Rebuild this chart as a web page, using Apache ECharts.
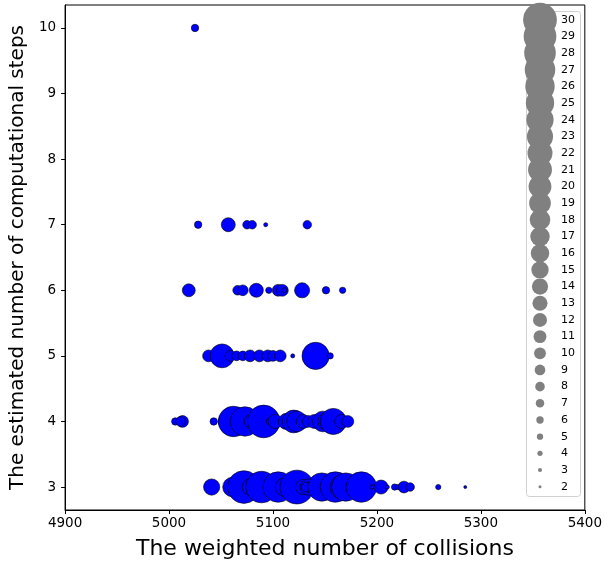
<!DOCTYPE html>
<html>
<head>
<meta charset="utf-8">
<script src="https://cdn.jsdelivr.net/npm/echarts@6/dist/echarts.min.js"></script>
<style>html,body{margin:0;padding:0;background:#fff;}#c{width:605px;height:567px;}</style>
</head>
<body>
<div id="c"></div>
<script>
// Data: [weighted collisions, computational steps, count]
const row10 = [[5025, 10, 6]];
const row7 = [[5028,7,6],[5057,7,12],[5075,7,7],[5080,7,7],[5093,7,3],[5133,7,7]];
const row6 = [[5019,6,11],[5066,6,8],[5071,6,9],[5084,6,12],[5096,6,5],[5105,6,10],[5109,6,10],[5111,6,4],[5128,6,13],[5151,6,6],[5167,6,5]];
const row5 = [[5038,5,10],[5051,5,21],[5059,5,9],[5065,5,8],[5071,5,8],[5078,5,10],[5087,5,10],[5095,5,10],[5100,5,9],[5107,5,10],[5119,5,3],[5141,5,24],[5155,5,5]];
const row4 = [[5006,4,6],[5013,4,10],[5011,4,8],[5043,4,6],[5054,4,12],[5060,4,10],[5062,4,27],[5073,4,26],[5079,4,12],[5086,4,10],[5091,4,29],[5097,4,6],[5102,4,12],[5113,4,14],[5120,4,20],[5123,4,18],[5129,4,12],[5134,4,10],[5140,4,12],[5148,4,18],[5152,4,16],[5158,4,23],[5166,4,12],[5172,4,10]];
const row3 = [[5041,3,14],[5061,3,17],[5072,3,29],[5078,3,14],[5083,3,13],[5089,3,28],[5095,3,3],[5105,3,27],[5111,3,16],[5120,3,3],[5123,3,30],[5129,3,13],[5134,3,14],[5139,3,13],[5132,3,8],[5147,3,25],[5157,3,9],[5160,3,27],[5167,3,22],[5170,3,25],[5177,3,13],[5185,3,27],[5195,3,3],[5204,3,12],[5210,3,3],[5217,3,5],[5220,3,4],[5226,3,10],[5232,3,7],[5259,3,4],[5285,3,2]];
const legendCounts = [30,29,28,27,26,25,24,23,22,21,20,19,18,17,16,15,14,13,12,11,10,9,8,7,6,5,4,3,2];
const xTicks = [4900, 5000, 5100, 5200, 5300, 5400];
const yTicks = [3, 4, 5, 6, 7, 8, 9, 10];

const sizeOf = n => 1.1 * n + 0.8;
const points = [].concat(row10, row7, row6, row5, row4, row3);

const chart = echarts.init(document.getElementById('c'), null, {renderer: 'canvas'});
const font = 'DejaVu Sans';
chart.setOption({
  animation: false,
  backgroundColor: '#fff',
  textStyle: {fontFamily: font},
  graphic: [{
    type: 'rect', z: 0, left: 526, top: 11,
    shape: {width: 54, height: 485, r: 3},
    style: {fill: 'rgba(255,255,255,0.8)', stroke: '#d0d0d0', lineWidth: 1}
  }],
  grid: [
    {left: 65, right: 20, top: 5, bottom: 57, show: true, borderColor: '#000', borderWidth: 1, z: 1},
    {left: 527, width: 26, top: 3, height: 500.4, show: false}
  ],
  xAxis: [{
    type: 'value', gridIndex: 0, min: 4900, max: 5400, interval: 100,
    name: 'The weighted number of collisions', nameLocation: 'middle', nameGap: 28,
    nameTextStyle: {fontSize: 22, color: '#000', fontFamily: font},
    axisLine: {show: true, lineStyle: {color: '#000', width: 1}},
    axisTick: {show: true, length: 4, lineStyle: {color: '#000'}},
    axisLabel: {fontSize: 13.5, color: '#000', margin: 6, fontFamily: font,
      customValues: xTicks, formatter: v => String(v)},
    splitLine: {show: false}
  }, {
    type: 'value', gridIndex: 1, min: 0, max: 1, show: false
  }],
  yAxis: [{
    type: 'value', gridIndex: 0, min: 2.65, max: 10.35,
    name: 'The estimated number of computational steps', nameLocation: 'middle', nameGap: 35,
    nameTextStyle: {fontSize: 20, color: '#000', fontFamily: font},
    axisLine: {show: true, lineStyle: {color: '#000', width: 1}},
    axisTick: {show: true, length: 4, lineStyle: {color: '#000'}, customValues: yTicks},
    axisLabel: {fontSize: 13.5, color: '#000', margin: 9, fontFamily: font, customValues: yTicks},
    splitLine: {show: false}
  }, {
    type: 'value', gridIndex: 1, min: 1, max: 31, position: 'right',
    axisLine: {show: false}, axisTick: {show: false}, splitLine: {show: false},
    axisLabel: {show: true, fontSize: 11, color: '#000', margin: 8, align: 'left', fontFamily: font,
      customValues: legendCounts}
  }],
  series: [{
    type: 'scatter', xAxisIndex: 0, yAxisIndex: 0, z: 2,
    data: points,
    symbolSize: v => sizeOf(v[2]),
    itemStyle: {color: '#0000ff', borderColor: '#000', borderWidth: 0.6, opacity: 1},
    emphasis: {disabled: true}
  }, {
    type: 'scatter', xAxisIndex: 1, yAxisIndex: 1, z: 3,
    data: legendCounts.map(n => [0.5, n]),
    symbolSize: v => sizeOf(v[1]),
    itemStyle: {color: '#808080', opacity: 1},
    emphasis: {disabled: true}
  }]
});
</script>
</body>
</html>
